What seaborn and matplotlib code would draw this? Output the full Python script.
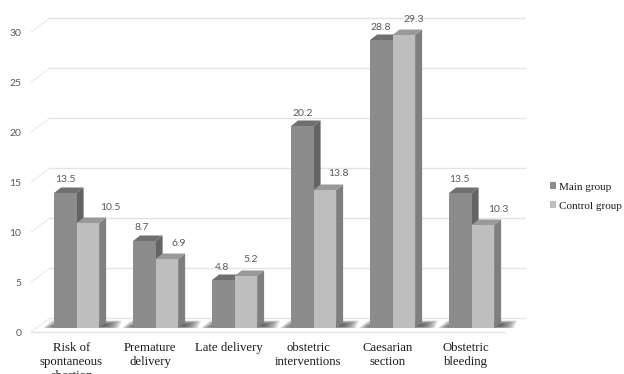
import numpy as np
import pandas as pd
import matplotlib.pyplot as plt
from matplotlib.patches import Polygon
from matplotlib.transforms import ScaledTranslation
import seaborn as sns

categories = ['Risk of\nspontaneous\nabortion', 'Premature\ndelivery', 'Late delivery',
              'obstetric\ninterventions', 'Caesarian\nsection', 'Obstetric\nbleeding']
main_group = [13.5, 8.7, 4.8, 20.2, 28.8, 13.5]
control_group = [10.5, 6.9, 5.2, 13.8, 29.3, 10.3]
yticks = [0, 5, 10, 15, 20, 25, 30]

# label nudges in pixels, one per bar
label_dx = [[0, -3, -1, 0, -1, -1], [23, 12, 5, 14, 10, 16]]
label_dy = [13, 16]

# pixel scales of the picture
W, H = 624, 374
PX_X = 79.0
PX_Y = 10.0
CX0 = 76.6
L, R, T, B = 31, 525, 18, 332
DX, DY = 7 / PX_X, 5.5 / PX_Y
WALL_X, WALL_Y = 19 / PX_X, 1.4

sns.set_theme(style='white')
plt.rcParams['font.family'] = ['Lato', 'DejaVu Sans']

data = pd.DataFrame({
    'category': categories * 2,
    'value': main_group + control_group,
    'group': ['Main group'] * 6 + ['Control group'] * 6,
})

fig = plt.figure(figsize=(W / 100, H / 100), dpi=100)
ax = fig.add_axes([L / W, 1 - B / H, (R - L) / W, (B - T) / H])
sns.barplot(data=data, x='category', y='value', hue='group', ax=ax, width=0.57, gap=0,
            palette=['#8c8c8c', '#bebebe'], saturation=1, errorbar=None, linewidth=0)
x0 = (L - CX0) / PX_X
x1 = (R - CX0) / PX_X
ax.set_xlim(x0, x1)
ax.set_ylim(-0.4, 31)
sns.despine(ax=ax, left=True, bottom=True)
ax.set_xlabel('')
ax.set_ylabel('')
ax.patch.set_alpha(0)

# back wall gridlines and their slanted part on the left wall
xb0 = x0 + WALL_X
for t in yticks:
    ax.plot([x0, xb0], [t - 0.4, t + 1.0], color='#ececec', lw=0.9, zorder=1, clip_on=False)
    ax.plot([xb0, x1], [t + 1.0, t + 1.0], color='#e4e4e4', lw=1, zorder=1, clip_on=False)

# floor
floor_right = (505 - CX0) / PX_X
ax.plot([x0, floor_right], [-0.4, -0.4], color='#e4e4e4', lw=1, zorder=1, clip_on=False)

side_cols = ['#646464', '#7f7f7f']
top_cols = ['#6f6f6f', '#999999']
for c, container in enumerate(ax.containers):
    z = 3 + c
    for i, patch in enumerate(container):
        patch.set_zorder(z + 0.1 if c == 0 else z)
        xa = patch.get_x()
        xc = xa + patch.get_width()
        h = patch.get_height()
        ax.add_patch(Polygon([(xc, 0), (xc + DX, DY), (xc + DX, h + DY), (xc, h)],
                             fc=side_cols[c], ec='none', zorder=z))
        ax.add_patch(Polygon([(xa, h), (xa + DX, h + DY), (xc + DX, h + DY), (xc, h)],
                             fc=top_cols[c], ec='none', zorder=z))
        ax.annotate(f'{h:.1f}', ((xa + xc) / 2, h),
                    xytext=(label_dx[c][i] * 0.72, label_dy[c] * 0.72),
                    textcoords='offset points', ha='center', va='center',
                    fontsize=7.5, color='#595959', zorder=8)

# soft shadow on the floor, built from thin layers
for i in range(len(categories)):
    for shrink in np.arange(0, 11, 1.0):
        a = i - 0.285 - (11 - shrink) / PX_X
        b = i + 0.285 + (20 - shrink * 1.4) / PX_X
        lift = (7.5 - shrink * 0.35) / PX_Y
        drop = (shrink * 0.1) / PX_Y
        ax.add_patch(Polygon([(a, drop), (b, drop), (b + 3 / PX_X, lift), (a + 9 / PX_X, lift)],
                             fc='#404040', ec='none', alpha=0.12, zorder=2))

ax.set_yticks(np.array(yticks) - 0.4, labels=yticks)
ax.tick_params(axis='y', length=0, pad=7, labelsize=7.5, labelcolor='#595959')
ax.tick_params(axis='x', length=0, pad=7.5)
ax.set_xticks(range(len(categories)), labels=categories, fontsize=9.2, color='#1a1a1a',
              family=['Liberation Serif'], linespacing=1.22, va='top')
shift = ScaledTranslation(-5.3 / 100, 0, fig.dpi_scale_trans)
for lab in ax.get_xticklabels():
    lab.set_transform(lab.get_transform() + shift)

handles, labels = ax.get_legend_handles_labels()
ax.legend(handles, labels, loc='center left', bbox_to_anchor=(549.5 / W, 1 - 196.5 / H),
          bbox_transform=fig.transFigure, frameon=False, handlelength=0.6, handleheight=0.6,
          handletextpad=0.22, labelspacing=0.85, borderpad=0, borderaxespad=0,
          prop={'family': 'Liberation Serif', 'size': 8}, labelcolor='#1a1a1a')

fig.savefig('out.png', dpi=100)
